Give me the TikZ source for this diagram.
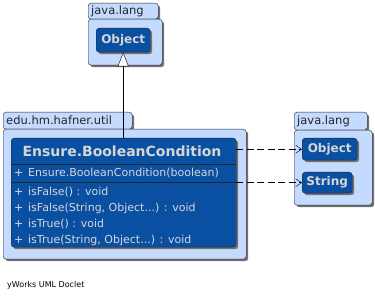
\documentclass[tikz,border=0pt]{standalone}
\usepackage{fontspec}
\setmainfont{DejaVu Sans}
\usetikzlibrary{arrows.meta,shadows}

\definecolor{pkgblue}{RGB}{196,218,255}
\definecolor{clsblue}{RGB}{10,80,162}
\definecolor{txtgray}{RGB}{214,214,214}
% varargs dots, kept out of the \foreach list
\newcommand{\varargs}{...}

\begin{document}
\begin{tikzpicture}[x=1pt,y=-1pt,
  box/.style={draw=black!85,rounded corners=3pt,anchor=north west,inner sep=0pt,
    drop shadow={shadow xshift=2pt,shadow yshift=-2pt,fill=black!55,opacity=1}},
  pkgtab/.style={box,fill=pkgblue,text=black!85,font=\fontsize{11.5}{13}\selectfont,
    align=left,inner xsep=3pt},
  pkgbody/.style={box,fill=pkgblue},
  classbox/.style={box,fill=clsblue},
  refbox/.style={box,fill=clsblue,text=txtgray,font=\bfseries\fontsize{12}{14}\selectfont},
  member/.style={anchor=west,inner sep=0pt,text=txtgray,font=\fontsize{11}{13}\selectfont},
  depends/.style={draw=black,dash pattern=on 7pt off 3.5pt,
    -{Straight Barb[length=6pt,width=8pt]}},
  extends/.style={draw=black,-{Triangle[open,length=14pt,width=11pt,fill=white]}}]
  \useasboundingbox (0,0) rectangle (375,299);

  % package java.lang (top)
  \node[pkgtab,text width=64pt,minimum height=16pt] (langAtab) at (88,3) {java.lang};
  \node[pkgbody,minimum width=74pt,minimum height=46pt] (langA) at (88,19) {};
  \node[refbox,minimum width=54pt,minimum height=24pt] (objA) at (96,28) {Object};

  % package edu.hm.hafner.util
  \node[pkgtab,text width=123pt,minimum height=17pt] (utiltab) at (3,112) {edu.hm.hafner.util};
  \node[pkgbody,minimum width=243pt,minimum height=130pt] (util) at (3,129) {};

  % class Ensure.BooleanCondition
  \node[classbox,minimum width=225pt,minimum height=109pt] (cond) at (11,138) {};
  \node[text=txtgray,font=\bfseries\fontsize{14}{16}\selectfont] (condname)
    at (122,151) {Ensure.BooleanCondition};
  \draw[black!85] (11,164) -- (236,164);
  \draw[black!85] (11,182) -- (236,182);
  \node[member] (ctor) at (14,173) {\makebox[14pt][l]{+}Ensure.BooleanCondition(boolean)};
  \foreach \sig [count=\i] in {{isFalse() : void},
      {isFalse(String, Object\varargs) : void},
      {isTrue() : void},
      {isTrue(String, Object\varargs) : void}}
    \node[member] (m\i) at (14,{176+16*\i}) {\makebox[14pt][l]{+}\sig};

  % package java.lang (right)
  \node[pkgtab,text width=67pt,minimum height=18pt] (langBtab) at (294,112) {java.lang};
  \node[pkgbody,minimum width=78pt,minimum height=75pt] (langB) at (294,130) {};
  \node[refbox,minimum width=55pt,minimum height=22pt] (objB) at (302,138) {Object};
  \node[refbox,minimum width=50pt,minimum height=21pt] (strB) at (302,172) {String};

  % relations
  \draw[extends] (cond.north -| objA) -- (objA.south);
  \draw[depends] (cond.east |- objB.west) -- (objB.west);
  \draw[depends] (cond.east |- strB.west) -- (strB.west);

  \node[anchor=west,inner sep=0pt,font=\fontsize{8}{10}\selectfont] (credit)
    at (7,285) {yWorks UML Doclet};
\end{tikzpicture}
\end{document}
